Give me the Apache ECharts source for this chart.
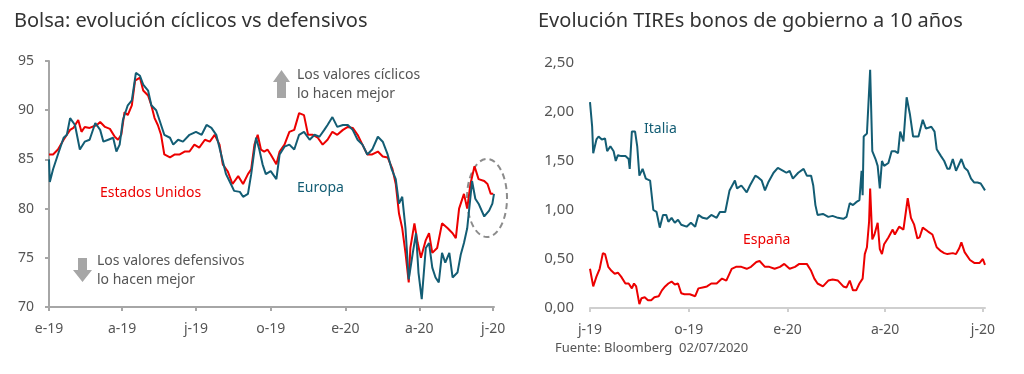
<!DOCTYPE html>
<html>
<head>
<meta charset="utf-8">
<script src="https://cdn.jsdelivr.net/npm/echarts@6/dist/echarts.min.js"></script>
<style>
html,body{margin:0;padding:0;background:#fff;}
#c{width:1024px;height:374px;}
</style>
</head>
<body>
<div id="c"></div>
<script>
// ---- Left chart: cyclicals vs defensives (days since 1-Jan-2019) ----
const leftTickDays = [0, 90, 181, 273, 365, 456, 547];
const leftTickLabels = ['e-19', 'a-19', 'j-19', 'o-19', 'e-20', 'a-20', 'j-20'];
const usDays = [0,5,11,18,22,26,30,36,40,44,50,59,63,69,75,81,85,89,93,97,102,106,112,116,122,126,130,134,138,142,149,155,161,167,173,179,185,192,198,204,210,214,220,226,233,239,245,249,253,257,261,265,269,273,280,284,290,296,302,308,314,319,325,331,337,343,349,355,362,368,374,380,386,392,398,405,411,417,423,427,431,435,439,443,445,450,454,458,464,468,472,478,484,491,497,501,505,511,515,519,524,529,536,540,544,547];
const usVals = [85.5,85.5,86,87,87.5,88,88.2,89,87.8,88.3,88.2,88.5,88.8,88.3,88.1,87.3,87,87.5,89.8,89.5,90.5,93,93.3,92,91.5,90.5,89.2,88.5,87.5,85.5,85.2,85.5,85.5,85.8,85.8,86.5,86.2,87,86.8,87.5,86.5,84.5,83.8,82.5,83.3,82.5,83.5,84,86.5,87.5,86,85.8,86,85.5,84.5,85.8,86.5,87.8,88,89.7,89.5,87.5,87.5,87.2,86.5,87,87.8,87.5,88,88.3,88.2,87.5,86.5,85.5,85.5,85.8,85.3,85.2,84,82.5,79.5,78,75.5,72.5,76,78.5,76.5,75,76.8,77.5,75.5,76,78.5,78,77.5,77,80,81.5,80,82.5,84.3,83,82.8,82.5,81.5,81.5];
const euDays = [0,1,5,11,18,22,26,32,38,44,50,57,63,67,73,79,83,87,91,97,102,107,112,116,122,126,132,136,142,149,153,159,165,173,181,188,194,200,206,212,218,224,228,235,239,245,249,255,259,263,267,273,280,284,290,296,302,308,314,321,327,333,339,343,349,355,362,368,374,380,386,392,398,405,411,417,422,427,431,435,439,443,448,452,455,459,464,468,472,476,480,484,488,493,497,503,507,511,515,521,525,529,536,542,546,548];
const euVals = [85,82.7,84,85.5,87.2,87.5,89.2,88.5,86,86.8,87,88.7,88,86.8,87,87.2,85.8,86.5,89,90.5,91,93.8,93.5,92.6,92,90.5,90,89,87.5,87.2,86.5,87,86.8,87.5,87.8,87.5,88.5,88.2,87.5,85.5,83.5,82.5,81.8,81.7,81.2,81.5,83.5,87.2,86,84.5,83.5,83.8,83,85.5,86.3,86.5,86,87.5,87.8,87,87.5,87.3,88,88.5,89.3,88.3,88.5,88.5,88,87,86.5,85.5,86,87.3,86.8,85.5,84,83,80.5,81.2,78,72.8,75.5,77.5,73.5,70.8,76,76.5,74,73,72.5,75.5,74.5,75.5,73,73.5,75.3,76.5,78,82.8,81,80.5,79.2,79.8,80.5,81.5];

// ---- Right chart: 10y government bond yields (days since 1-Jul-2019) ----
const rightTickDays = [0, 92, 184, 275, 366];
const rightTickLabels = ['j-19', 'o-19', 'e-20', 'a-20', 'j-20'];
const itDays = [0,2,3,6,8,11,14,16,19,22,24,26,29,33,36,37,39,42,44,46,49,52,56,59,62,65,68,71,73,76,79,82,85,90,94,98,101,105,109,113,118,121,126,130,135,137,141,146,149,154,157,160,163,166,171,175,180,183,186,189,194,199,202,206,208,210,212,217,222,226,231,236,239,242,245,248,251,253,254,255,258,261,263,266,268,270,272,274,278,281,284,287,289,292,295,298,301,306,310,313,318,321,323,327,330,333,335,338,341,346,349,352,355,358,361,364,368];
const itVals = [2.10,1.85,1.58,1.72,1.75,1.72,1.73,1.60,1.65,1.60,1.50,1.56,1.55,1.55,1.52,1.42,1.80,1.80,1.65,1.35,1.42,1.32,1.30,1.00,0.98,0.82,0.95,0.95,0.88,0.92,0.87,0.90,0.85,0.83,0.87,0.83,0.95,0.92,0.91,0.95,0.92,0.98,0.98,1.20,1.30,1.22,1.25,1.18,1.25,1.35,1.33,1.30,1.20,1.28,1.38,1.43,1.40,1.38,1.40,1.32,1.38,1.42,1.35,1.35,1.25,1.05,0.95,0.96,0.93,0.94,0.92,0.91,0.93,1.07,1.05,1.08,1.10,1.40,1.15,1.75,1.78,2.43,1.60,1.52,1.45,1.22,1.50,1.45,1.48,1.60,1.60,1.58,1.80,1.70,2.15,1.98,1.75,1.75,1.92,1.83,1.85,1.80,1.62,1.55,1.50,1.42,1.42,1.52,1.40,1.52,1.43,1.40,1.32,1.28,1.28,1.27,1.20];
const esDays = [0,3,6,9,12,14,17,20,23,26,29,33,36,39,41,43,46,48,51,54,57,60,64,67,70,73,76,79,82,85,88,93,98,101,105,109,113,118,123,127,132,136,141,146,150,155,158,163,167,172,177,181,186,191,195,202,206,209,212,217,222,226,231,236,239,242,245,248,251,254,256,258,260,261,263,265,268,270,272,274,278,282,284,288,292,296,299,302,305,307,310,315,319,323,327,330,333,338,341,344,346,349,354,358,363,366,368];
const esVals = [0.40,0.22,0.32,0.40,0.56,0.55,0.42,0.38,0.35,0.36,0.32,0.25,0.25,0.20,0.25,0.22,0.04,0.10,0.11,0.08,0.08,0.11,0.12,0.18,0.22,0.25,0.27,0.24,0.25,0.15,0.14,0.14,0.12,0.20,0.21,0.22,0.25,0.25,0.30,0.28,0.40,0.42,0.42,0.40,0.42,0.47,0.48,0.42,0.42,0.40,0.42,0.45,0.40,0.42,0.45,0.45,0.38,0.30,0.25,0.22,0.28,0.29,0.28,0.22,0.21,0.28,0.18,0.18,0.25,0.30,0.55,0.62,0.88,1.22,0.70,0.75,0.87,0.60,0.55,0.65,0.72,0.80,0.75,0.83,0.80,1.12,0.92,0.85,0.71,0.72,0.82,0.78,0.75,0.62,0.58,0.56,0.55,0.56,0.55,0.61,0.67,0.57,0.49,0.46,0.46,0.50,0.44];

const RED = '#EC0000';
const TEAL = '#135D74';
const TXT = '#555555';
const FONT = '"Noto Sans", "Open Sans", sans-serif';

function zip(xs, ys) { return xs.map((x, i) => [x, ys[i]]); }

const chart = echarts.init(document.getElementById('c'), null, {renderer: 'canvas'});

function xAxisCfg(gridIndex, maxDay, ticks, labels, axisColor) {
  return {
    type: 'value', gridIndex: gridIndex, min: 0, max: maxDay,
    axisLine: {show: true, lineStyle: {color: axisColor, width: 2}},
    axisTick: {show: true, customValues: ticks, length: 4, lineStyle: {color: axisColor, width: 2}},
    axisLabel: {
      customValues: ticks, margin: 15, color: TXT, fontFamily: FONT, fontSize: 14,
      formatter: function (v) { const i = ticks.indexOf(v); return i >= 0 ? labels[i] : ''; }
    },
    splitLine: {show: false}
  };
}

const option = {
  animation: false,
  backgroundColor: '#fff',
  textStyle: {fontFamily: FONT},
  grid: [
    {left: 49, right: 530, top: 61, bottom: 67},
    {left: 590, right: 39, top: 63, bottom: 66}
  ],
  xAxis: [
    xAxisCfg(0, 548, leftTickDays, leftTickLabels, '#a6a6a6'),
    xAxisCfg(1, 368, rightTickDays, rightTickLabels, '#cfcfcf')
  ],
  yAxis: [
    {
      type: 'value', gridIndex: 0, min: 70, max: 95, interval: 5,
      axisLine: {show: true, lineStyle: {color: '#a6a6a6', width: 2}},
      axisTick: {show: true, length: 4, lineStyle: {color: '#a6a6a6', width: 2}},
      axisLabel: {color: TXT, fontFamily: FONT, fontSize: 14, margin: 15},
      splitLine: {show: false}
    },
    {
      type: 'value', gridIndex: 1, min: 0, max: 2.5, interval: 0.5,
      axisLine: {show: false}, axisTick: {show: false},
      axisLabel: {color: TXT, fontFamily: FONT, fontSize: 15, margin: 16,
        formatter: function (v) { return v.toFixed(2).replace('.', ','); }},
      splitLine: {show: false}
    }
  ],
  series: [
    {name: 'Estados Unidos', type: 'line', xAxisIndex: 0, yAxisIndex: 0, data: zip(usDays, usVals),
      showSymbol: false, lineStyle: {color: RED, width: 2}, itemStyle: {color: RED}, z: 2},
    {name: 'Europa', type: 'line', xAxisIndex: 0, yAxisIndex: 0, data: zip(euDays, euVals),
      showSymbol: false, lineStyle: {color: TEAL, width: 2}, itemStyle: {color: TEAL}, z: 3},
    {name: 'Italia', type: 'line', xAxisIndex: 1, yAxisIndex: 1, data: zip(itDays, itVals),
      showSymbol: false, lineStyle: {color: TEAL, width: 2}, itemStyle: {color: TEAL}},
    {name: 'España', type: 'line', xAxisIndex: 1, yAxisIndex: 1, data: zip(esDays, esVals),
      showSymbol: false, lineStyle: {color: RED, width: 2}, itemStyle: {color: RED}}
  ],
  graphic: [
    {type: 'text', style: {x: 14, y: 21, text: 'Bolsa: evolución cíclicos vs defensivos', font: '20px ' + FONT, fill: '#333', verticalAlign: 'middle'}},
    {type: 'text', style: {x: 538, y: 21, text: 'Evolución TIREs bonos de gobierno a 10 años', font: '20px ' + FONT, fill: '#333', verticalAlign: 'middle'}},
    {type: 'text', style: {x: 297, y: 75, text: 'Los valores cíclicos', font: '14px ' + FONT, fill: TXT, verticalAlign: 'middle'}},
    {type: 'text', style: {x: 297, y: 94, text: 'lo hacen mejor', font: '14px ' + FONT, fill: TXT, verticalAlign: 'middle'}},
    {type: 'text', style: {x: 97, y: 261, text: 'Los valores defensivos', font: '14px ' + FONT, fill: TXT, verticalAlign: 'middle'}},
    {type: 'text', style: {x: 97, y: 280, text: 'lo hacen mejor', font: '14px ' + FONT, fill: TXT, verticalAlign: 'middle'}},
    {type: 'text', style: {x: 100, y: 193, text: 'Estados Unidos', font: '14px ' + FONT, fill: RED, verticalAlign: 'middle'}},
    {type: 'text', style: {x: 297, y: 188, text: 'Europa', font: '14px ' + FONT, fill: TEAL, verticalAlign: 'middle'}},
    {type: 'text', style: {x: 644, y: 129, text: 'Italia', font: '14px ' + FONT, fill: TEAL, verticalAlign: 'middle'}},
    {type: 'text', style: {x: 743, y: 240, text: 'España', font: '14px ' + FONT, fill: RED, verticalAlign: 'middle'}},
    {type: 'text', style: {x: 555, y: 348, text: 'Fuente: Bloomberg  02/07/2020', font: '13px ' + FONT, fill: TXT, verticalAlign: 'middle'}},
    {type: 'polygon', shape: {points: [[281.5, 70], [290, 82], [286, 82], [286, 98], [277, 98], [277, 82], [273, 82]]}, style: {fill: '#a6a6a6'}},
    {type: 'polygon', shape: {points: [[78, 258], [87, 258], [87, 270], [92, 270], [82.5, 282], [73, 270], [78, 270]]}, style: {fill: '#a6a6a6'}},
    {type: 'ellipse', shape: {cx: 487, cy: 198, rx: 20, ry: 39}, style: {fill: 'none', stroke: '#8c8c8c', lineWidth: 2, lineDash: [6, 4]}}
  ]
};
chart.setOption(option);
</script>
</body>
</html>
